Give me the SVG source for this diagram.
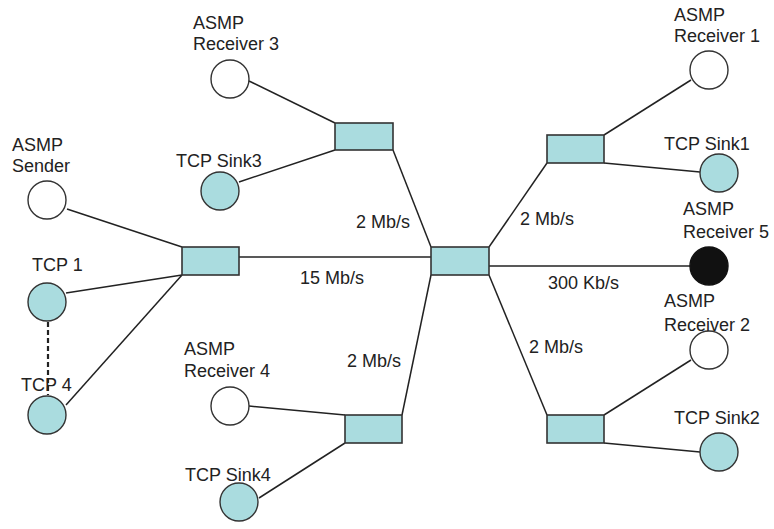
<svg xmlns="http://www.w3.org/2000/svg" width="774" height="529" viewBox="0 0 774 529">
<style>
text{font-family:"Liberation Sans",Arial,sans-serif;font-size:18px;fill:#222}
.sw{fill:#aadcdf;stroke:#333;stroke-width:1.6}
.tcp{fill:#aadcdf;stroke:#333;stroke-width:1.4}
.asmp{fill:#fff;stroke:#333;stroke-width:1.4}
.blk{fill:#111;stroke:#111;stroke-width:1.4}
.ln{stroke:#222;stroke-width:1.5;fill:none}
.dash{stroke:#222;stroke-width:2.2;stroke-dasharray:5 3;fill:none}
</style>
<rect width="774" height="529" fill="#fff"/>
<g id="connectors">
<line class="ln" x1="67" y1="209" x2="182" y2="247"/>
<line class="ln" x1="66" y1="293" x2="182" y2="275"/>
<line class="ln" x1="66" y1="405" x2="182" y2="275"/>
<line class="dash" x1="48" y1="322" x2="48" y2="395"/>
<line class="ln" x1="239" y1="257" x2="431" y2="257"/>
<line class="ln" x1="249" y1="81" x2="335" y2="123"/>
<line class="ln" x1="239" y1="182" x2="335" y2="150"/>
<line class="ln" x1="393" y1="150" x2="431" y2="247"/>
<line class="ln" x1="489" y1="247" x2="547" y2="163"/>
<line class="ln" x1="604" y1="135" x2="691" y2="80"/>
<line class="ln" x1="604" y1="163" x2="700" y2="172"/>
<line class="ln" x1="489" y1="266" x2="690" y2="266"/>
<line class="ln" x1="489" y1="275" x2="547" y2="415"/>
<line class="ln" x1="604" y1="415" x2="691" y2="360"/>
<line class="ln" x1="604" y1="443" x2="700" y2="452"/>
<line class="ln" x1="431" y1="275" x2="402" y2="415"/>
<line class="ln" x1="249" y1="406" x2="345" y2="415"/>
<line class="ln" x1="259" y1="498" x2="345" y2="443"/>
</g>
<g id="switch-left"><rect class="sw" x="182" y="247" width="57" height="28"/></g>
<g id="switch-top"><rect class="sw" x="335" y="123" width="58" height="27"/></g>
<g id="switch-center"><rect class="sw" x="431" y="247" width="58" height="28"/></g>
<g id="switch-upper-right"><rect class="sw" x="547" y="135" width="57" height="28"/></g>
<g id="switch-lower-right"><rect class="sw" x="547" y="415" width="57" height="28"/></g>
<g id="switch-bottom"><rect class="sw" x="345" y="415" width="57" height="28"/></g>
<g id="asmp-sender"><circle class="asmp" cx="47" cy="200" r="19"/><text x="12" y="151">ASMP</text><text x="12" y="172">Sender</text></g>
<g id="tcp1"><circle class="tcp" cx="47" cy="302" r="19"/><text x="32" y="271">TCP 1</text></g>
<g id="tcp4"><circle class="tcp" cx="47" cy="415" r="19"/><text x="21" y="391">TCP 4</text></g>
<g id="asmp-receiver3"><circle class="asmp" cx="230" cy="79" r="19"/><text x="193" y="29">ASMP</text><text x="193" y="50">Receiver 3</text></g>
<g id="tcp-sink3"><circle class="tcp" cx="220" cy="191" r="19"/><text x="176" y="167">TCP Sink3</text></g>
<g id="asmp-receiver1"><circle class="asmp" cx="709" cy="70" r="19"/><text x="674" y="21">ASMP</text><text x="674" y="42">Receiver 1</text></g>
<g id="tcp-sink1"><circle class="tcp" cx="719" cy="173" r="19"/><text x="664" y="150">TCP Sink1</text></g>
<g id="asmp-receiver5"><circle class="blk" cx="709" cy="266" r="19"/><text x="683" y="215">ASMP</text><text x="683" y="238">Receiver 5</text></g>
<g id="asmp-receiver2"><circle class="asmp" cx="709" cy="350" r="19"/><text x="664" y="307">ASMP</text><text x="664" y="331">Receiver 2</text></g>
<g id="tcp-sink2"><circle class="tcp" cx="719" cy="452" r="19"/><text x="674" y="424">TCP Sink2</text></g>
<g id="asmp-receiver4"><circle class="asmp" cx="230" cy="406" r="19"/><text x="184" y="355">ASMP</text><text x="184" y="377">Receiver 4</text></g>
<g id="tcp-sink4"><circle class="tcp" cx="239" cy="502" r="19"/><text x="185" y="481">TCP Sink4</text></g>
<g id="labels">
<text x="356" y="228">2 Mb/s</text>
<text x="300" y="284">15 Mb/s</text>
<text x="520" y="225">2 Mb/s</text>
<text x="548" y="289">300 Kb/s</text>
<text x="529" y="353">2 Mb/s</text>
<text x="347" y="367">2 Mb/s</text>
</g>
</svg>
